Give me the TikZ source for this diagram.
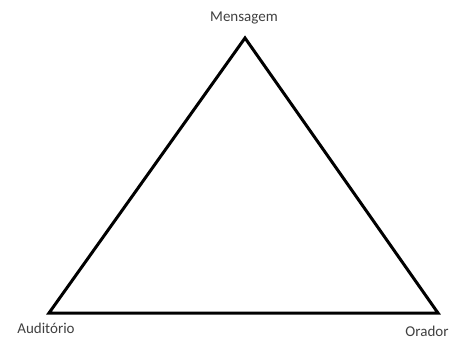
\documentclass[tikz,border=0pt]{standalone}
\usepackage{fontspec}
\setmainfont{Carlito}
\usepackage{xcolor}
\usetikzlibrary{calc,positioning}

\begin{document}
\begin{tikzpicture}[x=1pt,y=-1pt]
        \useasboundingbox (0,0) rectangle (456,340);
        \tikzset{
            vertexlabel/.style={
                text=black!75,
                font=\fontsize{15}{18}\selectfont,
                inner sep=1pt
            }
        }
        % vertices of the triangle
        \coordinate (mensagem) at (245,38);
        \coordinate (auditorio) at (49,313);
        \coordinate (orador) at (438,313);
        \draw[black,line width=3pt,line join=miter]
            (mensagem) -- (orador) -- (auditorio) -- cycle;
        % labels
        \node[vertexlabel] (lmens) at (244,18) {Mensagem};
        \node[vertexlabel] (laud) at (46,328) {Auditório};
        \node[vertexlabel] (lora) at (427,331) {Orador};
    \end{tikzpicture}
\end{document}
